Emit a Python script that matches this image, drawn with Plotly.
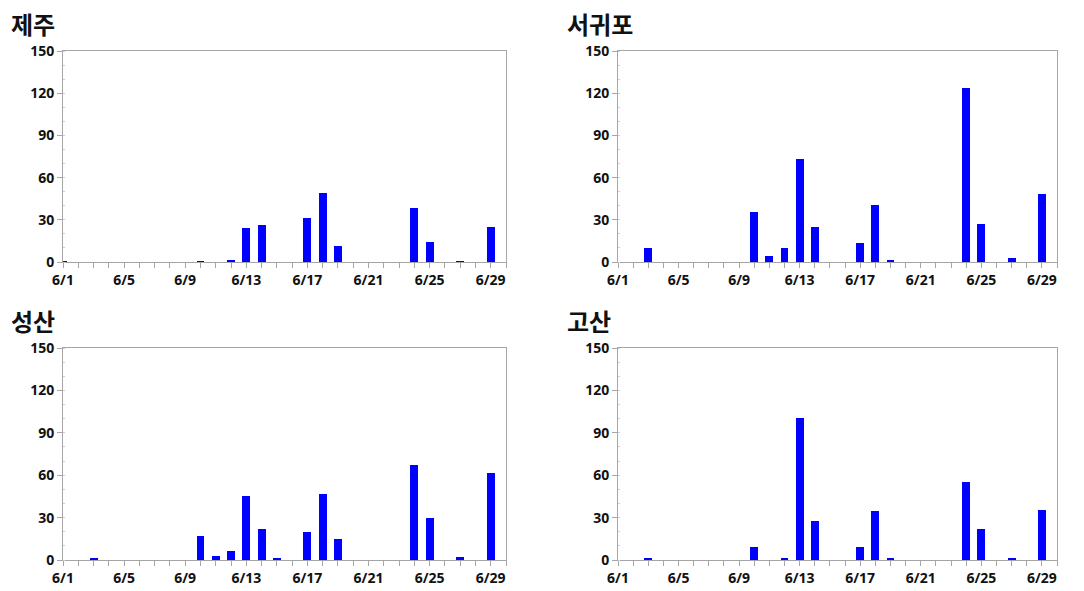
import plotly.graph_objects as go

days = list(range(1, 31))
day_labels = [f"6/{d}" if (d - 1) % 4 == 0 else "" for d in days]
y_ticks = [0, 30, 60, 90, 120, 150]

station_names = ["제주", "서귀포", "성산", "고산"]
jeju = [0.5, 0, 0, 0, 0, 0, 0, 0, 0, 0.5, 0, 1.5, 24.4, 26.0, 0, 0, 31.2, 49.4, 11.6, 0,
        0, 0, 0, 38.3, 14.4, 0, 0.5, 0, 25.1, 0]
seogwipo = [0, 0, 10.0, 0, 0, 0, 0, 0, 0, 35.8, 4.0, 10.0, 73.3, 24.7, 0, 0, 13.5, 40.8, 1.0, 0,
            0, 0, 0, 123.4, 27.3, 0, 2.8, 0, 48.0, 0]
seongsan = [0, 0, 1.0, 0, 0, 0, 0, 0, 0, 16.8, 2.6, 6.4, 45.2, 21.8, 1.0, 0, 20.1, 46.4, 14.7, 0,
            0, 0, 0, 67.2, 29.6, 0, 1.9, 0, 61.5, 0]
gosan = [0, 0, 0.9, 0, 0, 0, 0, 0, 0, 9.0, 0, 0.9, 100.7, 27.5, 0, 0, 9.0, 34.6, 0.9, 0,
         0, 0, 0, 55.0, 21.8, 0, 1.7, 0, 35.5, 0]
series = [jeju, seogwipo, seongsan, gosan]

W, H = 1084, 591
# pixel boxes of plot areas (left, right, top, bottom)
boxes = [(63, 506, 51, 262), (618, 1057, 51, 262),
         (63, 506, 348, 560), (618, 1057, 348, 560)]
title_pos = [(9, 4), (565, 4), (9, 301), (565, 301)]

fig = go.Figure()
axis_color = "#a6a6a6"
font_fam = "Noto Sans, DejaVu Sans, sans-serif"

for i, (name, vals) in enumerate(zip(station_names, series)):
    n = "" if i == 0 else str(i + 1)
    fig.add_trace(go.Bar(x=days, y=vals, width=0.52,
                         marker=dict(color="#0000ff", line=dict(width=0)),
                         xaxis="x" + n, yaxis="y" + n, showlegend=False))
    l, r, t, b = boxes[i]
    fig.layout["xaxis" + n] = dict(
        domain=[l / W, r / W], anchor="y" + n, range=[1, 30], automargin=False,
        tickmode="array", tickvals=days, ticktext=day_labels,
        ticks="outside", ticklen=5, tickcolor=axis_color, tickwidth=1,
        showline=True, linecolor=axis_color, linewidth=1, mirror=True,
        showgrid=False, zeroline=False,
        tickfont=dict(family=font_fam, size=14, color="#111111", weight="bold"),
    )
    fig.layout["yaxis" + n] = dict(
        domain=[1 - b / H, 1 - t / H], anchor="x" + n, range=[0, 150], automargin=False,
        tickmode="array", tickvals=y_ticks,
        ticks="outside", ticklen=5, tickcolor=axis_color, tickwidth=1,
        minor=dict(dtick=10, ticks="inside", ticklen=2, tickcolor="#d0d0d0"),
        showline=True, linecolor=axis_color, linewidth=1, mirror=True,
        showgrid=False, zeroline=False,
        tickfont=dict(family=font_fam, size=14, color="#111111", weight="bold"),
    )
    tx, ty = title_pos[i]
    fig.add_annotation(text=name, xref="paper", yref="paper",
                       x=tx / W, y=1 - ty / H, xanchor="left", yanchor="top",
                       showarrow=False,
                       font=dict(family="Noto Sans CJK KR", size=24, color="#111111", weight="bold"))

fig.update_layout(width=W, height=H, margin=dict(l=0, r=0, t=0, b=0),
                  paper_bgcolor="white", plot_bgcolor="white", bargap=0)
fig.write_html("out.html", config={"displayModeBar": False},
               post_script="document.body.style.margin='0';document.body.style.overflow='hidden';")
